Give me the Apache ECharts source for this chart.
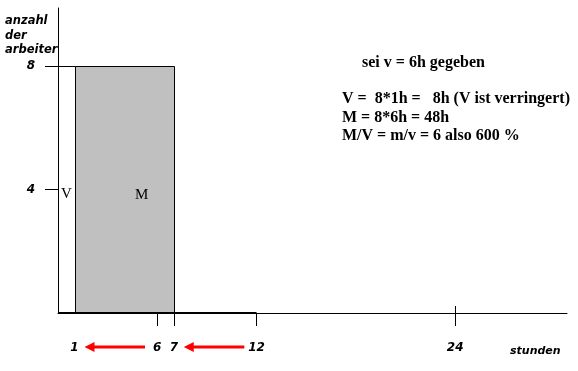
<!DOCTYPE html>
<html><head><meta charset="utf-8">
<script src="https://cdn.jsdelivr.net/npm/echarts@6/dist/echarts.min.js"></script>
<style>html,body{margin:0;padding:0;background:#fff}#c{width:578px;height:371px}</style>
</head><body><div id="c"></div>
<script>
// ---- data ----
const xLabelValues = [1, 6, 7, 12, 24];
const xTickValues = [6, 7, 12, 24];
const yLabelValues = [4, 8];
const blockStart = [0, 1];
const blockEnd = [1, 7];
const blockWorkers = [8, 8];
const blockNames = ['V', 'M'];
const workdayLine = [[0, 0], [12, 0]];
const dayEnd = 24;
const arrowFrom = [6, 12];
const arrowTo = [1, 7];
const yAxisNameLines = ['anzahl', 'der', 'arbeiter'];
const xAxisName = 'stunden';
const noteHead = 'sei v = 6h gegeben';
const noteLines = ['V =  8*1h =   8h (V ist verringert)', 'M = 8*6h = 48h', 'M/V = m/v = 6 also 600 %'];

// ---- styles ----
const blockFills = ['#ffffff', '#c0c0c0'];
const labelFont = { fontFamily: 'DejaVu Sans', fontWeight: 'bold', fontStyle: 'italic', fontSize: 12, color: '#000' };

const chart = echarts.init(document.getElementById('c'));
const blockData = blockStart.map((s, i) => [s, blockEnd[i], blockWorkers[i]]);

chart.setOption({
  animation: false,
  backgroundColor: '#fff',
  grid: { left: 58, right: 11, top: 8, bottom: 58, outerBoundsMode: 'none' },
  xAxis: {
    type: 'value', min: 0, max: 30.76,
    axisLine: { lineStyle: { color: '#000', width: 1 } },
    axisTick: { show: true, customValues: xTickValues, length: 13, lineStyle: { color: '#000' } },
    axisLabel: { customValues: xLabelValues, margin: 29, ...labelFont },
    splitLine: { show: false }
  },
  yAxis: {
    type: 'value', min: 0, max: 9.88,
    axisLine: { show: true, lineStyle: { color: '#000', width: 1 } },
    axisTick: { show: true, customValues: yLabelValues, length: 13, lineStyle: { color: '#000' } },
    axisLabel: { customValues: yLabelValues, margin: 23, ...labelFont },
    splitLine: { show: false }
  },
  series: [
    {
      type: 'custom',
      data: blockData,
      clip: false,
      renderItem(params, api) {
        const p0 = api.coord([api.value(0), api.value(2)]);
        const p1 = api.coord([api.value(1), 0]);
        const x0 = Math.round(p0[0]) + 0.5, y0 = Math.round(p0[1]) + 0.5;
        const x1 = Math.round(p1[0]) + 0.5, y1 = Math.round(p1[1]) + 0.5;
        return {
          type: 'rect',
          shape: { x: x0, y: y0, width: x1 - x0, height: y1 - y0 },
          style: { fill: blockFills[params.dataIndex], stroke: '#000', lineWidth: 1 }
        };
      },
      z: 1
    },
    {
      type: 'line',
      data: workdayLine,
      symbol: 'none',
      clip: false,
      lineStyle: { color: '#000', width: 2 },
      z: 3
    }
  ]
});

// annotations positioned through the chart's scales
const arrowY = -1.1;
const graphics = [];
arrowFrom.forEach((f, i) => {
  const tail = chart.convertToPixel({ gridIndex: 0 }, [f - 0.74, arrowY]);
  const tip = chart.convertToPixel({ gridIndex: 0 }, [arrowTo[i] + 0.6, arrowY]);
  const y = Math.round(tip[1]);
  graphics.push({ type: 'line', z: 20, shape: { x1: tip[0] + 8, y1: y, x2: tail[0], y2: y }, style: { stroke: '#ff0000', lineWidth: 3 } });
  graphics.push({ type: 'polygon', z: 20, shape: { points: [[tip[0], y], [tip[0] + 10, y - 5], [tip[0] + 10, y + 5]] }, style: { fill: '#ff0000' } });
});
// the 24h tick also reaches above the axis
const endPt = chart.convertToPixel({ gridIndex: 0 }, [dayEnd, 0]);
const ex = Math.round(endPt[0]) + 0.5;
graphics.push({ type: 'line', z: 20, shape: { x1: ex, y1: endPt[1] - 7, x2: ex, y2: endPt[1] }, style: { stroke: '#000', lineWidth: 1 } });

graphics.push({
  type: 'text', left: 5, top: 14, z: 20,
  style: { text: yAxisNameLines.join('\n'), font: 'italic bold 11.5px "DejaVu Sans"', lineHeight: 14.5, fill: '#000' }
});
graphics.push({
  type: 'text', left: 510, top: 346, z: 20,
  style: { text: xAxisName, font: 'italic bold 11px "DejaVu Sans"', fill: '#000' }
});
graphics.push({
  type: 'text', left: 362, top: 55, z: 20,
  style: { text: noteHead, font: 'bold 16px "Liberation Serif"', fill: '#000' }
});
graphics.push({
  type: 'text', left: 342, top: 90, z: 20,
  style: { text: noteLines.join('\n'), font: 'bold 16px "Liberation Serif"', lineHeight: 18.5, fill: '#000' }
});
graphics.push({
  type: 'text', left: 61, top: 187, z: 20,
  style: { text: blockNames[0], font: '15px "Liberation Serif"', fill: '#000' }
});
graphics.push({
  type: 'text', left: 135, top: 188, z: 20,
  style: { text: blockNames[1], font: '15px "Liberation Serif"', fill: '#000' }
});

chart.setOption({ graphic: graphics });
</script>
</body></html>
